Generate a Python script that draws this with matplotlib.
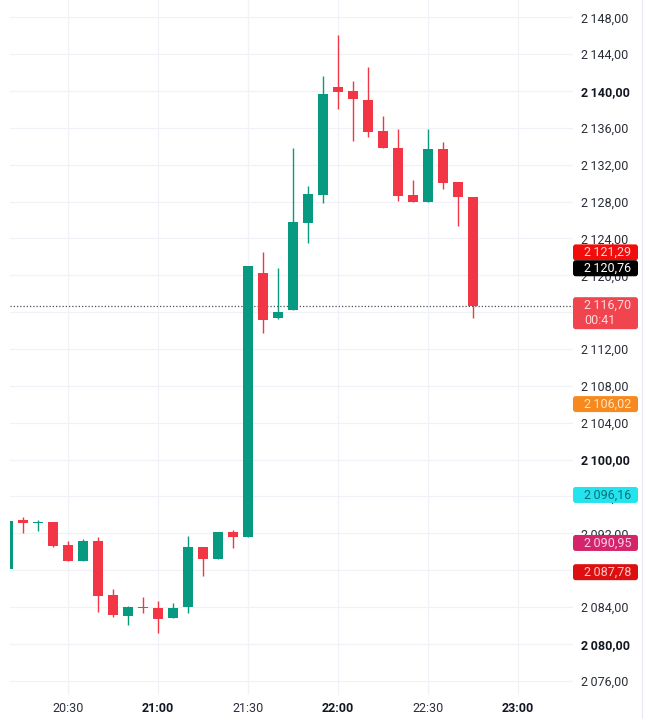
import matplotlib
matplotlib.use('Agg')
import matplotlib.pyplot as plt
from matplotlib.patches import FancyBboxPatch
from matplotlib.lines import Line2D

plt.rcParams['font.family'] = ['Roboto', 'DejaVu Sans']

# 5 minute candles, 20:10 .. 22:45
times = ['20:10', '20:15', '20:20', '20:25', '20:30', '20:35', '20:40', '20:45',
         '20:50', '20:55', '21:00', '21:05', '21:10', '21:15', '21:20', '21:25',
         '21:30', '21:35', '21:40', '21:45', '21:50', '21:55', '22:00', '22:05',
         '22:10', '22:15', '22:20', '22:25', '22:30', '22:35', '22:40', '22:45']
opens = [2088.1, 2093.45, 2093.15, 2093.2, 2090.7, 2089.0, 2091.15, 2085.3,
         2083.05, 2084.0, 2083.85, 2082.8, 2083.95, 2090.5, 2089.25, 2092.15,
         2091.6, 2120.3, 2115.35, 2116.25, 2125.65, 2128.7, 2140.4, 2140.0,
         2139.0, 2135.65, 2133.8, 2128.7, 2128.0, 2133.7, 2130.1, 2128.45]
highs = [2093.35, 2093.8, 2093.45, 2093.25, 2091.2, 2091.35, 2091.6, 2085.9,
         2084.1, 2085.05, 2084.65, 2084.4, 2091.7, 2090.55, 2092.1, 2092.35,
         2121.0, 2122.55, 2120.75, 2133.8, 2129.7, 2141.6, 2146.1, 2141.1,
         2142.65, 2137.3, 2135.9, 2130.35, 2135.9, 2134.5, 2130.15, 2128.5]
lows = [2088.1, 2092.0, 2092.3, 2090.55, 2089.0, 2089.0, 2083.5, 2082.9,
        2082.1, 2083.3, 2081.2, 2082.8, 2083.4, 2087.4, 2089.2, 2090.45,
        2091.6, 2113.7, 2115.3, 2116.2, 2123.55, 2127.8, 2138.1, 2134.6,
        2135.0, 2133.8, 2128.1, 2127.9, 2128.0, 2129.35, 2125.4, 2115.35]
closes = [2093.35, 2093.1, 2093.2, 2090.6, 2089.0, 2091.15, 2085.2, 2083.1,
          2084.05, 2083.9, 2082.7, 2083.9, 2090.5, 2089.25, 2092.1, 2091.6,
          2121.0, 2115.2, 2116.0, 2125.8, 2128.8, 2139.7, 2139.85, 2139.1,
          2135.6, 2133.85, 2128.65, 2127.95, 2133.7, 2130.05, 2128.45, 2116.7]

last_price = 2116.70
countdown = '00:41'

y_ticks = [2076, 2080, 2084, 2088, 2092, 2096, 2100, 2104, 2108, 2112, 2116,
           2120, 2124, 2128, 2132, 2136, 2140, 2144, 2148]
bold_y = [2080, 2100, 2140]
x_ticks = ['20:30', '21:00', '21:30', '22:00', '22:30', '23:00']

# price tags on the right scale
tag_values = [2121.29, 2120.76, 2116.70, 2106.02, 2096.16, 2090.95, 2087.78]
tag_bg = ['#f20d0d', '#000000', '#f0444f', '#f68a1e', '#22e3ee', '#d4246c', '#dc1010']
tag_fg = ['#ffd6d6', '#ffffff', '#ffd9dc', '#ffe4c4', '#0e6e75', '#ffd0e3', '#ffc8c8']
tag_shift = [11, 0, 0, 0, 0, 0, 0]   # px, pushed up to avoid overlap

GREEN = '#089981'
RED = '#f23645'
GRID = '#f0f2f7'


def to_min(s):
    h, m = s.split(':')
    return (int(h) - 20) * 60 + int(m)


def fmt(v):
    return f'{v:,.2f}'.replace(',', '\u2009').replace('.', ',')


W, H = 652, 719
fig = plt.figure(figsize=(W / 100, H / 100), dpi=100)
ax = fig.add_axes([10 / W, 24 / H, 563 / W, 695 / H])
ax.set_xlim(10.667, 198.33)
ax.set_ylim(2074.45, 2149.875)

for sp in ax.spines.values():
    sp.set_visible(False)

xt = [to_min(s) for s in x_ticks]
ax.set_xticks(xt)
ax.set_xticklabels(x_ticks)
ax.set_yticks(y_ticks)
ax.set_yticklabels([fmt(v) for v in y_ticks])
ax.yaxis.tick_right()
ax.tick_params(axis='both', length=0, labelsize=9, colors='#2a2e39')
ax.tick_params(axis='y', pad=6)
ax.tick_params(axis='x', pad=5)
for lab, v in zip(ax.get_yticklabels(), y_ticks):
    if v in bold_y:
        lab.set_fontweight('bold')
        lab.set_color('#131722')
for lab in ax.get_xticklabels():
    if lab.get_text().endswith(':00'):
        lab.set_fontweight('bold')
        lab.set_color('#131722')

ax.grid(True, color=GRID, lw=0.9)
ax.set_axisbelow(True)

for t, o, h, l, c in zip(times, opens, highs, lows, closes):
    x = to_min(t)
    col = GREEN if c >= o else RED
    ax.vlines(x, l, h, color=col, lw=1.0, zorder=2)
    ax.bar(x, max(abs(c - o), 0.12), bottom=min(o, c), width=3.5,
           color=col, zorder=3)

ax.axhline(last_price, color='#4a4f5c', ls=(0, (1, 1.6)), lw=0.9, zorder=1)

# right border of price scale
fig.add_artist(Line2D([642 / W, 642 / W], [0, 1], color='#e6e9ef', lw=0.8,
                      transform=fig.transFigure))

inv = fig.transFigure.inverted()
bx0, bx1 = 573 / W, 638 / W
bh = 16 / H
for v, bg, fg, sh in zip(tag_values, tag_bg, tag_fg, tag_shift):
    yd = ax.transData.transform((ax.get_xlim()[0], v))[1] + sh
    yc = inv.transform((0, yd))[1]
    if v == last_price:
        top = yc + 8.5 / H
        box = FancyBboxPatch((bx0, top - 32 / H), bx1 - bx0, 32 / H,
                             boxstyle='round,pad=0,rounding_size=0.004',
                             fc=bg, ec='none', transform=fig.transFigure)
        fig.add_artist(box)
        fig.text(631 / W, yc, fmt(v), ha='right', va='center', fontsize=9,
                 color=fg)
        fig.text(584 / W, yc - 15 / H, countdown, ha='left', va='center',
                 fontsize=9, color=fg)
    else:
        box = FancyBboxPatch((bx0, yc - bh / 2), bx1 - bx0, bh,
                             boxstyle='round,pad=0,rounding_size=0.004',
                             fc=bg, ec='none', transform=fig.transFigure)
        fig.add_artist(box)
        fig.text(631 / W, yc, fmt(v), ha='right', va='center', fontsize=9,
                 color=fg)

fig.savefig('out.png', dpi=100)
